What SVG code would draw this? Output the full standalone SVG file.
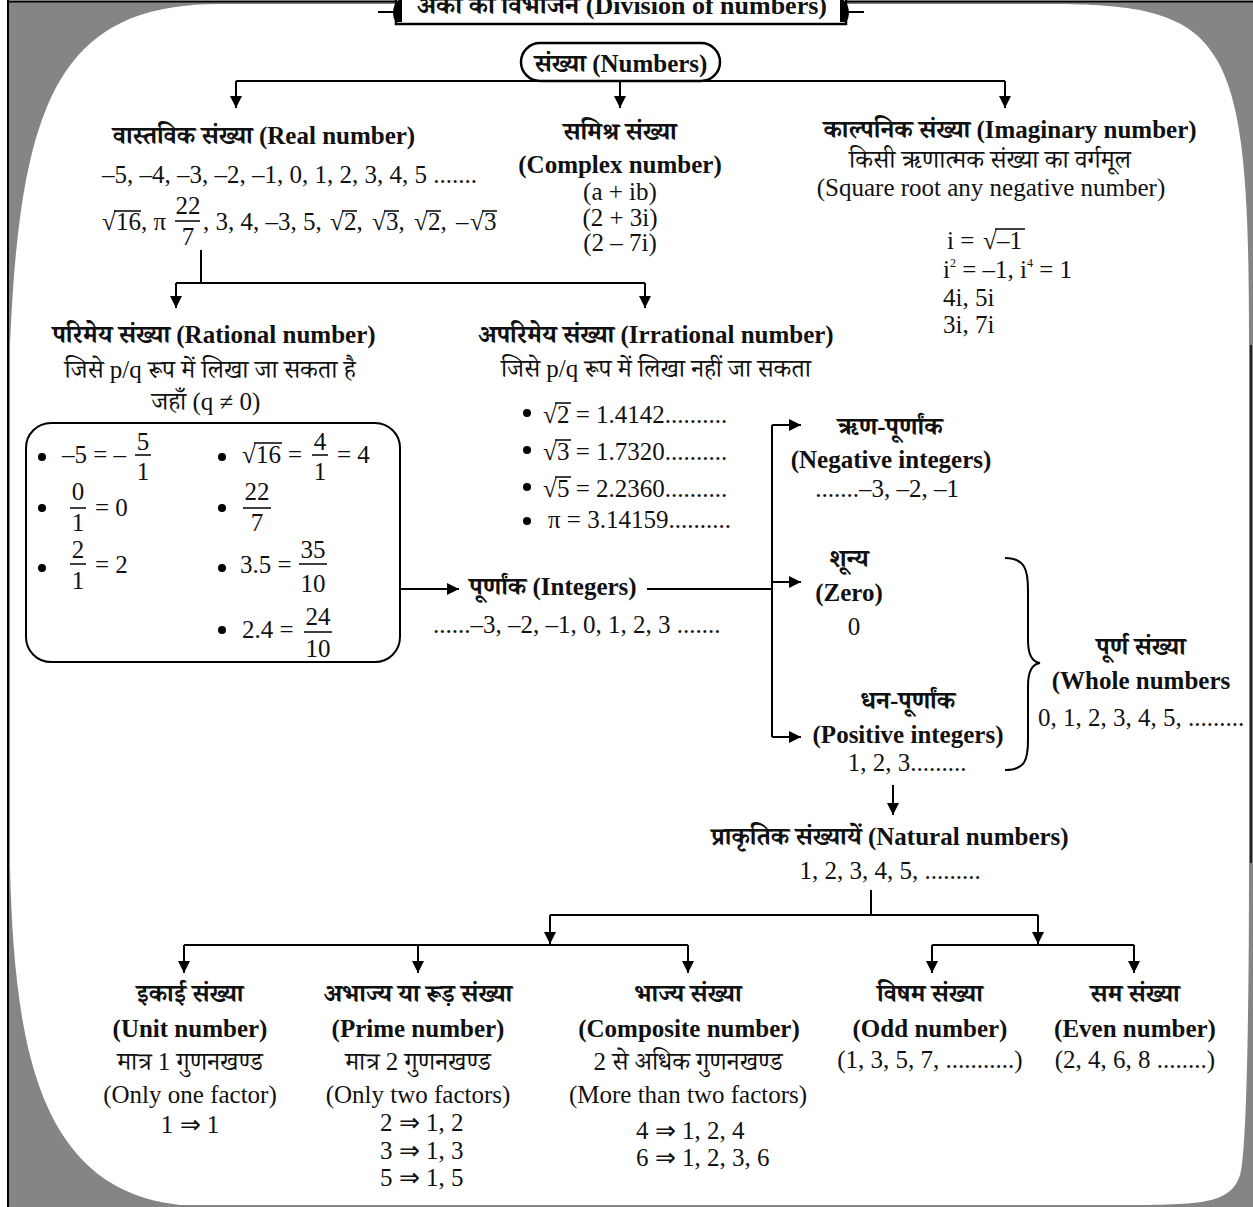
<svg xmlns="http://www.w3.org/2000/svg" width="1253" height="1207" viewBox="0 0 1253 1207">
<defs>
<marker id="ah" markerUnits="userSpaceOnUse" markerWidth="14" markerHeight="14" refX="12" refY="6" orient="auto">
<path d="M0,0 L12,6 L0,12 Z" fill="#000"/>
</marker>
<style>
.b{font-family:'Liberation Serif','Noto Serif Devanagari','Noto Sans Devanagari','Lohit Devanagari',serif;font-weight:bold;font-size:25px;fill:#111}
.r{font-family:'Liberation Serif','Noto Serif Devanagari','Noto Sans Devanagari','Lohit Devanagari',serif;font-size:25px;fill:#111}
.c{text-anchor:middle}
.sup{font-size:12px}
.ln{stroke:#000;stroke-width:2;fill:none}
.ar{stroke:#000;stroke-width:2;fill:none;marker-end:url(#ah)}
.bar{stroke:#000;stroke-width:1.5}
</style>
</defs>
<rect x="0" y="0" width="1253" height="1207" fill="#fff"/>
<g id="frame">
<rect x="8" y="1" width="1245" height="1206" fill="#858585"/>
<path d="M10,345 C20,100 60,4 220,4 L1050,4 C1230,4 1249,40 1249,345 L1249,863 C1249,1000 1247,1150 1240,1175 C1230,1205 1200,1205 1110,1205 L180,1205 C40,1190 14,1050 10,865 Z" fill="#fff"/>
<line x1="8" y1="0" x2="8" y2="1207" stroke="#000" stroke-width="2"/>
<line x1="8" y1="1.5" x2="1253" y2="1.5" stroke="#000" stroke-width="2"/>
<line x1="1251" y1="345" x2="1251" y2="863" stroke="#000" stroke-width="1.5"/>
</g>
<g id="title">
<line x1="378" y1="12" x2="396" y2="12" stroke="#000" stroke-width="2"/>
<line x1="846" y1="12" x2="864" y2="12" stroke="#000" stroke-width="2"/>
<rect x="396" y="-5" width="450" height="29" fill="#fff" stroke="#000" stroke-width="2.5"/>
<path d="M402,-2 C392,2 391,16 396,22 L402,22 Z" fill="#000"/>
<path d="M840,-2 C850,2 851,16 846,22 L840,22 Z" fill="#000"/>
<text class="b c" x="622" y="14" style="font-size:26px">अंकों का विभाजन (Division of numbers)</text>
</g>
<g id="connectors">
<path class="ln" d="M236,81 H1005"/>
<path class="ar" d="M236,81 V108"/>
<path class="ar" d="M620,81 V108"/>
<path class="ar" d="M1005,81 V108"/>
<path class="ln" d="M201,250 V283 M176,283 H645"/>
<path class="ar" d="M176,283 V308"/>
<path class="ar" d="M645,283 V308"/>
<path class="ar" d="M400,589 H459"/>
<path class="ln" d="M647,589 H772 M772,425 V737"/>
<path class="ar" d="M772,425 H801"/>
<path class="ar" d="M772,582 H801"/>
<path class="ar" d="M772,737 H801"/>
<path class="ar" d="M893,785 V815"/>
<path class="ln" d="M871,890 V915 M550,915 H1038"/>
<path class="ar" d="M550,915 V944"/>
<path class="ar" d="M1038,915 V944"/>
<path class="ln" d="M184,945 H688 M932,945 H1134"/>
<path class="ar" d="M184,945 V973"/>
<path class="ar" d="M418,945 V973"/>
<path class="ar" d="M688,945 V973"/>
<path class="ar" d="M932,945 V973"/>
<path class="ar" d="M1134,945 V973"/>
<path class="ln" d="M1005,558 C1025,558 1028,570 1028,590 L1028,640 C1028,655 1032,662 1040,663 C1032,664 1028,671 1028,686 L1028,740 C1028,760 1025,770 1005,770"/>
</g>
<g id="numbers">
<rect x="521" y="43" width="199" height="38" rx="19" fill="#fff" stroke="#000" stroke-width="2.5"/>
<text class="b c" x="621" y="72">संख्या (Numbers)</text>
</g>
<g id="real">
<text class="b c" x="264" y="144">वास्तविक संख्या (Real number)</text>
<text class="r" x="102" y="183">–5, –4, –3, –2, –1, 0, 1, 2, 3, 4, 5 .......</text>
<text class="r" x="102" y="230">√</text><text class="r" x="116" y="230">16, π</text>
<line class="bar" x1="114" y1="211" x2="141" y2="211"/>
<text class="r c" x="188" y="214">22</text><line class="bar" x1="175" y1="221" x2="200" y2="221"/><text class="r c" x="188" y="245">7</text>
<text class="r" x="203" y="230">, 3, 4, –3, 5,</text>
<text class="r" x="330" y="230">√</text><text class="r" x="344" y="230">2,</text><line class="bar" x1="342" y1="211" x2="357" y2="211"/>
<text class="r" x="372" y="230">√</text><text class="r" x="386" y="230">3,</text><line class="bar" x1="384" y1="211" x2="399" y2="211"/>
<text class="r" x="414" y="230">√</text><text class="r" x="428" y="230">2,</text><line class="bar" x1="426" y1="211" x2="441" y2="211"/>
<text class="r" x="456" y="230">–</text><text class="r" x="470" y="230">√</text><text class="r" x="484" y="230">3</text><line class="bar" x1="482" y1="211" x2="497" y2="211"/>
</g>
<g id="complex">
<text class="b c" x="620" y="140">समिश्र संख्या</text>
<text class="b c" x="620" y="173">(Complex number)</text>
<text class="r c" x="620" y="200">(a + ib)</text>
<text class="r c" x="620" y="226">(2 + 3i)</text>
<text class="r c" x="620" y="251">(2 – 7i)</text>
</g>
<g id="imaginary">
<text class="b c" x="1010" y="138">काल्पनिक संख्या (Imaginary number)</text>
<text class="r c" x="990" y="168">किसी ऋणात्मक संख्या का वर्गमूल</text>
<text class="r c" x="991" y="196">(Square root any negative number)</text>
<text class="r" x="947" y="249">i =</text><text class="r" x="983" y="249">√</text><text class="r" x="997" y="249">–1</text><line class="bar" x1="995" y1="229" x2="1025" y2="229"/>
<text class="r" x="943" y="278">i<tspan class="sup" dy="-11">2</tspan><tspan dy="11"> = –1, i</tspan><tspan class="sup" dy="-11">4</tspan><tspan dy="11"> = 1</tspan></text>
<text class="r" x="943" y="306">4i, 5i</text>
<text class="r" x="943" y="333">3i, 7i</text>
</g>
<g id="rational">
<text class="b c" x="214" y="343">परिमेय संख्या (Rational number)</text>
<text class="r c" x="210" y="378">जिसे p/q रूप में लिखा जा सकता है</text>
<text class="r c" x="206" y="410">जहाँ (q ≠ 0)</text>
<rect x="26" y="423" width="374" height="239" rx="25" fill="none" stroke="#000" stroke-width="2"/>
<circle cx="42" cy="457" r="4"/>
<text class="r" x="62" y="463">–5 = –</text>
<text class="r c" x="143" y="450">5</text><line class="bar" x1="135" y1="455" x2="151" y2="455"/><text class="r c" x="143" y="480">1</text>
<circle cx="222" cy="457" r="4"/>
<text class="r" x="242" y="463">√</text><text class="r" x="256" y="463">16</text><line class="bar" x1="254" y1="443" x2="282" y2="443"/>
<text class="r" x="288" y="463">=</text>
<text class="r c" x="320" y="450">4</text><line class="bar" x1="312" y1="455" x2="328" y2="455"/><text class="r c" x="320" y="480">1</text>
<text class="r" x="337" y="463">= 4</text>
<circle cx="42" cy="508" r="4"/>
<text class="r c" x="78" y="500">0</text><line class="bar" x1="70" y1="508" x2="86" y2="508"/><text class="r c" x="78" y="531">1</text>
<text class="r" x="95" y="516">= 0</text>
<circle cx="222" cy="508" r="4"/>
<text class="r c" x="257" y="500">22</text><line class="bar" x1="243" y1="508" x2="271" y2="508"/><text class="r c" x="257" y="531">7</text>
<circle cx="42" cy="568" r="4"/>
<text class="r c" x="78" y="558">2</text><line class="bar" x1="70" y1="564" x2="86" y2="564"/><text class="r c" x="78" y="589">1</text>
<text class="r" x="95" y="573">= 2</text>
<circle cx="222" cy="568" r="4"/>
<text class="r" x="240" y="573">3.5 =</text>
<text class="r c" x="313" y="558">35</text><line class="bar" x1="299" y1="564" x2="327" y2="564"/><text class="r c" x="313" y="592">10</text>
<circle cx="222" cy="630" r="4"/>
<text class="r" x="242" y="638">2.4 =</text>
<text class="r c" x="318" y="625">24</text><line class="bar" x1="304" y1="632" x2="332" y2="632"/><text class="r c" x="318" y="657">10</text>
</g>
<g id="irrational">
<text class="b c" x="656" y="343">अपरिमेय संख्या (Irrational number)</text>
<text class="r c" x="656" y="377">जिसे p/q रूप में लिखा नहीं जा सकता</text>
<circle cx="527" cy="413" r="4"/>
<text class="r" x="543" y="423">√</text><text class="r" x="557" y="423">2 = 1.4142..........</text><line class="bar" x1="555" y1="403" x2="571" y2="403"/>
<circle cx="527" cy="450" r="4"/>
<text class="r" x="543" y="460">√</text><text class="r" x="557" y="460">3 = 1.7320..........</text><line class="bar" x1="555" y1="440" x2="571" y2="440"/>
<circle cx="527" cy="487" r="4"/>
<text class="r" x="543" y="497">√</text><text class="r" x="557" y="497">5 = 2.2360..........</text><line class="bar" x1="555" y1="477" x2="571" y2="477"/>
<circle cx="527" cy="521" r="4"/>
<text class="r" x="548" y="528">π = 3.14159..........</text>
</g>
<g id="integers">
<text class="b c" x="553" y="595">पूर्णांक (Integers)</text>
<text class="r" x="433" y="633">......–3, –2, –1, 0, 1, 2, 3 .......</text>
</g>
<g id="negative">
<text class="b c" x="890" y="435">ऋण-पूर्णांक</text>
<text class="b c" x="891" y="468">(Negative integers)</text>
<text class="r c" x="887" y="497">.......–3, –2, –1</text>
</g>
<g id="zero">
<text class="b c" x="849" y="567">शून्य</text>
<text class="b c" x="849" y="601">(Zero)</text>
<text class="r c" x="854" y="635">0</text>
</g>
<g id="positive">
<text class="b c" x="908" y="709">धन-पूर्णांक</text>
<text class="b c" x="908" y="743">(Positive integers)</text>
<text class="r c" x="907" y="771">1, 2, 3.........</text>
</g>
<g id="whole">
<text class="b c" x="1141" y="655">पूर्ण संख्या</text>
<text class="b c" x="1141" y="689">(Whole numbers</text>
<text class="r c" x="1141" y="726">0, 1, 2, 3, 4, 5, .........</text>
</g>
<g id="natural">
<text class="b c" x="890" y="845">प्राकृतिक संख्यायें (Natural numbers)</text>
<text class="r c" x="890" y="879">1, 2, 3, 4, 5, .........</text>
</g>
<g id="unit">
<text class="b c" x="190" y="1002">इकाई संख्या</text>
<text class="b c" x="190" y="1037">(Unit number)</text>
<text class="r c" x="190" y="1070">मात्र 1 गुणनखण्ड</text>
<text class="r c" x="190" y="1103">(Only one factor)</text>
<text class="r c" x="190" y="1133">1 ⇒ 1</text>
</g>
<g id="prime">
<text class="b c" x="418" y="1002">अभाज्य या रूड़ संख्या</text>
<text class="b c" x="418" y="1037">(Prime number)</text>
<text class="r c" x="418" y="1070">मात्र 2 गुणनखण्ड</text>
<text class="r c" x="418" y="1103">(Only two factors)</text>
<text class="r" x="380" y="1131">2 ⇒ 1, 2</text>
<text class="r" x="380" y="1159">3 ⇒ 1, 3</text>
<text class="r" x="380" y="1186">5 ⇒ 1, 5</text>
</g>
<g id="composite">
<text class="b c" x="688" y="1002">भाज्य संख्या</text>
<text class="b c" x="689" y="1037">(Composite number)</text>
<text class="r c" x="688" y="1070">2 से अधिक गुणनखण्ड</text>
<text class="r c" x="688" y="1103">(More than two factors)</text>
<text class="r" x="636" y="1139">4 ⇒ 1, 2, 4</text>
<text class="r" x="636" y="1166">6 ⇒ 1, 2, 3, 6</text>
</g>
<g id="odd">
<text class="b c" x="930" y="1002">विषम संख्या</text>
<text class="b c" x="930" y="1037">(Odd number)</text>
<text class="r c" x="930" y="1068">(1, 3, 5, 7, ...........)</text>
</g>
<g id="even">
<text class="b c" x="1135" y="1002">सम संख्या</text>
<text class="b c" x="1135" y="1037">(Even number)</text>
<text class="r c" x="1135" y="1068">(2, 4, 6, 8 ........)</text>
</g>
</svg>
